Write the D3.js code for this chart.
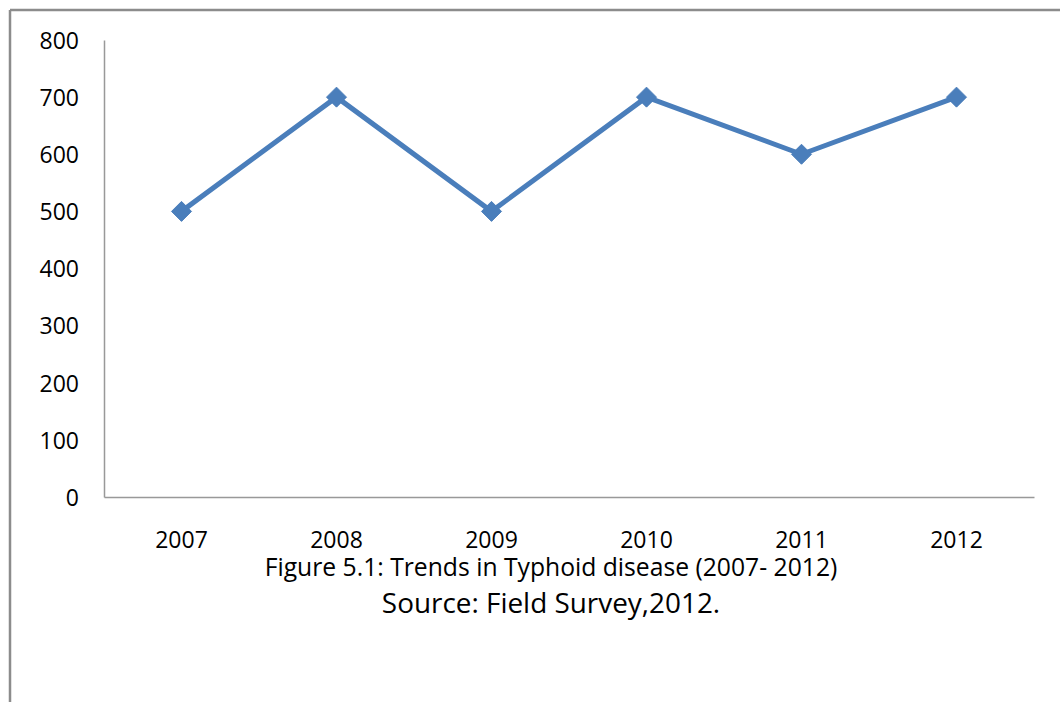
<!DOCTYPE html>
<html>
<head>
<meta charset="utf-8">
<script src="https://cdn.jsdelivr.net/npm/d3@7"></script>
<style>
  html, body { margin: 0; padding: 0; background: #fff; }
  svg { display: block; }
  text { font-family: "Open Sans", "Noto Sans", sans-serif; fill: #000; }
</style>
</head>
<body>
<svg id="chart" width="1060" height="702"></svg>
<script>
// Typhoid cases recorded per year
const years = ["2007", "2008", "2009", "2010", "2011", "2012"];
const cases = [500, 700, 500, 700, 600, 700];
const yTicks = [0, 100, 200, 300, 400, 500, 600, 700, 800];
const caption = "Figure 5.1: Trends in Typhoid disease (2007- 2012)";
const source = "Source: Field Survey,2012.";

const svg = d3.select("#chart");

// frame around the figure (top and left edges are visible)
svg.append("line").attr("x1", 10).attr("y1", 10).attr("x2", 1060).attr("y2", 10)
  .attr("stroke", "#8c8c8c").attr("stroke-width", 2.5);
svg.append("line").attr("x1", 10).attr("y1", 10).attr("x2", 10).attr("y2", 702)
  .attr("stroke", "#8c8c8c").attr("stroke-width", 2.5);

const plot = { left: 104, right: 1034, top: 40, bottom: 497 };

const x = d3.scaleBand().domain(years).range([plot.left, plot.right]);
const y = d3.scaleLinear().domain([0, 800]).range([plot.bottom, plot.top]);

// y axis
const yAxis = svg.append("g")
  .attr("transform", `translate(${plot.left},0)`)
  .call(d3.axisLeft(y).tickValues(yTicks).tickSize(0).tickPadding(25));
yAxis.select(".domain").attr("stroke", "#999").attr("stroke-width", 1.5);
yAxis.selectAll("text").style("font-size", "23px").attr("dy", "0.36em");

// x axis
const xAxis = svg.append("g")
  .attr("transform", `translate(0,${plot.bottom})`)
  .call(d3.axisBottom(x).tickSize(0).tickPadding(51));
xAxis.select(".domain").attr("stroke", "#999").attr("stroke-width", 1.5);
xAxis.selectAll("text").style("font-size", "23px").attr("dy", "0");

const cx = d => x(d) + x.bandwidth() / 2;

// series line
svg.append("path")
  .datum(years.map((yr, i) => ({ yr, v: cases[i] })))
  .attr("fill", "none")
  .attr("stroke", "#4a7ebb")
  .attr("stroke-width", 5)
  .attr("stroke-linejoin", "round")
  .attr("d", d3.line().x(d => cx(d.yr)).y(d => y(d.v)));

// diamond markers
svg.selectAll(".marker")
  .data(years.map((yr, i) => ({ yr, v: cases[i] })))
  .join("path")
  .attr("class", "marker")
  .attr("transform", d => `translate(${cx(d.yr)},${y(d.v)})`)
  .attr("d", "M0,-10L10,0L0,10L-10,0Z")
  .attr("fill", "#4a7ebb")
  .attr("stroke", "#4a7ebb")
  .attr("stroke-width", 1)
  .attr("stroke-linejoin", "round");

// caption and source
svg.append("text").attr("x", 551).attr("y", 576)
  .attr("text-anchor", "middle").style("font-size", "24.7px").text(caption);
svg.append("text").attr("x", 551).attr("y", 613)
  .attr("text-anchor", "middle").style("font-size", "27.9px").text(source);
</script>
</body>
</html>
